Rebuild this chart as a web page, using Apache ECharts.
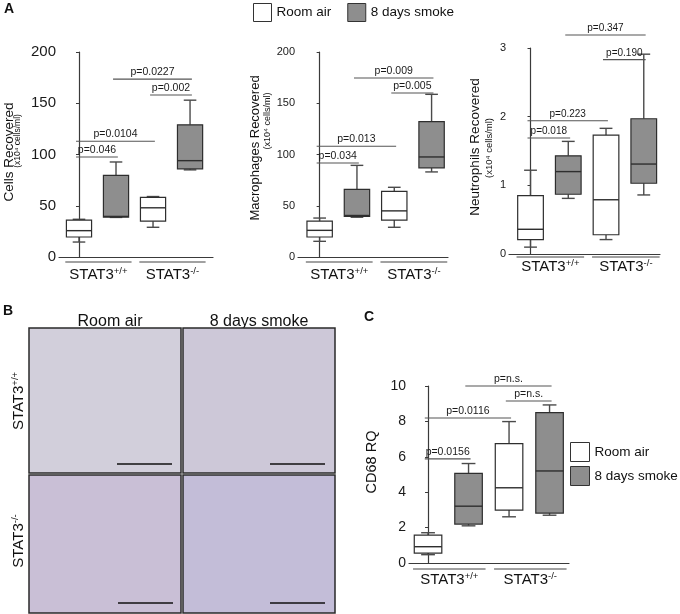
<!DOCTYPE html>
<html><head><meta charset="utf-8">
<script src="https://cdn.jsdelivr.net/npm/echarts@6/dist/echarts.min.js"></script>
<style>html,body{margin:0;padding:0;background:#fff}#c{width:680px;height:614px}</style>
</head><body><div id="c"></div>
<script>
const FONT = '"Liberation Sans", Arial, Helvetica, sans-serif';
// ---------------- data ----------------
const conditionNames = ['Room air', '8 days smoke'];
const groupNames = ['STAT3', 'STAT3'];
const groupSup = ['+/+', '-/-'];

// box stats: [slot, min, Q1, median, Q3, max]
const cellsRoomAir = [[0, 14.6, 19.5, 25.7, 36, 36.8], [2, 29, 35, 48, 58.2, 59]];
const cellsSmoke   = [[1, 38.6, 39, 39.6, 79.7, 92.7], [3, 85, 86, 94, 129, 153]];
const cellsSig = [[0, 1, 97.5], [0, 2, 113], [2, 3, 158], [1, 3, 173.5]];
const cellsSigLabels = ['p=0.046', 'p=0.0104', 'p=0.002', 'p=0.0227'];

const macroRoomAir = [[0, 15.3, 19.5, 26, 35, 38], [2, 29, 36, 45, 64, 68]];
const macroSmoke   = [[1, 38.8, 39.5, 40.5, 66, 89.4], [3, 83, 87, 97.6, 132, 158.7]];
const macroSig = [[0, 1, 91.7], [0, 2, 108], [2, 3, 160], [1, 3, 174.6]];
const macroSigLabels = ['p=0.034', 'p=0.013', 'p=0.005', 'p=0.009'];

const neutroRoomAir = [[0, 0.10, 0.21, 0.36, 0.85, 1.22], [2, 0.21, 0.28, 0.79, 1.73, 1.83]];
const neutroSmoke   = [[1, 0.81, 0.87, 1.20, 1.43, 1.64], [3, 0.86, 1.03, 1.31, 1.97, 2.91]];
const neutroSig = [[0, 1, 1.69], [0, 2, 1.94], [2, 3, 2.83], [1, 3, 3.19]];
const neutroSigLabels = ['p=0.018', 'p=0.223', 'p=0.190', 'p=0.347'];

const cd68RoomAir = [[0, 0.47, 0.56, 0.92, 1.58, 1.71], [2, 2.61, 2.99, 4.25, 6.75, 7.99]];
const cd68Smoke   = [[1, 2.1, 2.2, 3.21, 5.06, 5.62], [3, 2.7, 2.82, 5.2, 8.5, 8.93]];
const cd68Sig = [[0, 1, 5.88], [0, 2, 8.19], [2, 3, 9.15], [1, 3, 10.0]];
const cd68SigLabels = ['p=0.0156', 'p=0.0116', 'p=n.s.', 'p=n.s.'];

const cellsTicks = [0, 200, 50];
const macroTicks = [0, 200, 50];
const neutroTicks = [0, 3, 1];
const cd68Ticks = [0, 10, 2];

// ---------------- layout ----------------
const panels = [
  {grid: {left: 59, top: 52, width: 154, height: 205}, xr: [-0.54, 3.62], ticks: cellsTicks, tickFont: 15,
   ra: cellsRoomAir, sm: cellsSmoke, sig: cellsSig, sigL: cellsSigLabels, sigFont: 10.5, lineOff: 5, labOff: 18},
  {grid: {left: 298, top: 52, width: 150, height: 205}, xr: [-0.58, 3.44], ticks: macroTicks, tickFont: 11,
   ra: macroRoomAir, sm: macroSmoke, sig: macroSig, sigL: macroSigLabels, sigFont: 10.5, lineOff: 5, labOff: 18},
  {grid: {left: 509, top: 48, width: 151, height: 206}, xr: [-0.57, 3.43], ticks: neutroTicks, tickFont: 11,
   ra: neutroRoomAir, sm: neutroSmoke, sig: neutroSig, sigL: neutroSigLabels, sigFont: 10, lineOff: 3, labOff: 13},
  {grid: {left: 409, top: 386, width: 160, height: 177}, xr: [-0.47, 3.48], ticks: cd68Ticks, tickFont: 14,
   ra: cd68RoomAir, sm: cd68Smoke, sig: cd68Sig, sigL: cd68SigLabels, sigFont: 10.5, lineOff: 6, labOff: 17}
];

const AX = '#3a3a3a';
const colors = ['#ffffff', '#8e8e8e'];

function boxRender(params, api) {
  const x = api.value(0);
  const w = api.size([0.68, 0])[0];
  const lo = api.coord([x, api.value(1)]);
  const q1 = api.coord([x, api.value(2)]);
  const md = api.coord([x, api.value(3)]);
  const q3 = api.coord([x, api.value(4)]);
  const hi = api.coord([x, api.value(5)]);
  const cx = lo[0];
  const ws = {stroke: '#4a4a4a', lineWidth: 1.4};
  return {type: 'group', children: [
    {type: 'line', shape: {x1: cx, y1: hi[1], x2: cx, y2: q3[1]}, style: ws},
    {type: 'line', shape: {x1: cx, y1: q1[1], x2: cx, y2: lo[1]}, style: ws},
    {type: 'line', shape: {x1: cx - w / 4, y1: hi[1], x2: cx + w / 4, y2: hi[1]}, style: ws},
    {type: 'line', shape: {x1: cx - w / 4, y1: lo[1], x2: cx + w / 4, y2: lo[1]}, style: ws},
    {type: 'rect', shape: {x: cx - w / 2, y: q3[1], width: w, height: q1[1] - q3[1]},
     style: {fill: api.visual('color'), stroke: '#2e2e2e', lineWidth: 1.2}},
    {type: 'line', shape: {x1: cx - w / 2, y1: md[1], x2: cx + w / 2, y2: md[1]}, style: {stroke: '#2e2e2e', lineWidth: 1.4}}
  ]};
}

function sigRender(labels, fs) {
  return function (params, api) {
    const a = api.coord([api.value(0) - 0.08, api.value(2)]);
    const b = api.coord([api.value(1) + 0.05, api.value(2)]);
    return {type: 'group', children: [
      {type: 'line', shape: {x1: a[0], y1: a[1], x2: b[0], y2: b[1]}, style: {stroke: '#555', lineWidth: 1.1}},
      {type: 'text', x: (a[0] + b[0]) / 2, y: a[1] - 1.5,
       style: {text: labels[params.dataIndex], fill: '#1a1a1a', font: fs + 'px ' + FONT, align: 'center', verticalAlign: 'bottom'}}
    ]};
  };
}

function groupRender(p) {
  return function (params, api) {
    const g = api.value(0);
    const a = api.coord([2 * g - 0.37, 0]);
    const b = api.coord([2 * g + 1.42, 0]);
    const y = a[1] + p.lineOff;
    return {type: 'group', children: [
      {type: 'line', shape: {x1: a[0], y1: y, x2: b[0], y2: y}, style: {stroke: '#444', lineWidth: 1.1}},
      {type: 'text', x: (a[0] + b[0]) / 2, y: a[1] + p.labOff,
       style: {text: '{a|' + groupNames[g] + '}{s|' + groupSup[g] + '}', align: 'center', verticalAlign: 'middle',
         rich: {a: {fontSize: 15, fontFamily: FONT, fill: '#111', lineHeight: 17},
                s: {fontSize: 9.5, fontFamily: FONT, fill: '#111', verticalAlign: 'top', lineHeight: 17, padding: [0, 0, 6, 0]}}}}
    ]};
  };
}

const grid = [], xAxis = [], yAxis = [], series = [];
panels.forEach((p, i) => {
  grid.push(p.grid);
  xAxis.push({gridIndex: i, type: 'value', min: p.xr[0], max: p.xr[1],
    axisLine: {show: true, onZero: false, lineStyle: {color: AX, width: 1.2}},
    axisTick: {show: false}, axisLabel: {show: false}, splitLine: {show: false}});
  yAxis.push({gridIndex: i, type: 'value', min: p.ticks[0], max: p.ticks[1], interval: p.ticks[2],
    axisLine: {show: true, lineStyle: {color: AX, width: 1.2}},
    axisTick: {show: true, length: 3, lineStyle: {color: AX}},
    axisLabel: {fontSize: p.tickFont, color: '#1a1a1a', fontFamily: FONT, margin: 3},
    splitLine: {show: false}});
  [p.ra, p.sm].forEach((d, k) => {
    series.push({type: 'custom', name: conditionNames[k], xAxisIndex: i, yAxisIndex: i,
      itemStyle: {color: colors[k]}, clip: false, renderItem: boxRender, data: d,
      encode: {x: 0, y: [1, 2, 3, 4, 5]}});
  });
  series.push({type: 'custom', name: 'sig' + i, xAxisIndex: i, yAxisIndex: i, clip: false,
    renderItem: sigRender(p.sigL, p.sigFont), data: p.sig, encode: {x: [0, 1], y: 2}, silent: true});
  series.push({type: 'custom', name: 'grp' + i, xAxisIndex: i, yAxisIndex: i, clip: false,
    renderItem: groupRender(p), data: [[0], [1]], encode: {x: 0}, silent: true});
});

function vtext(x, y, text, size, extra) {
  return Object.assign({type: 'text', x: x, y: y, rotation: Math.PI / 2,
    style: {text: text, font: size + 'px ' + FONT, fill: '#111', align: 'center', verticalAlign: 'middle'}}, extra || {});
}
function vrich(x, y, base, sup) {
  return {type: 'text', x: x, y: y, rotation: Math.PI / 2,
    style: {text: '{a|' + base + '}{s|' + sup + '}', align: 'center', verticalAlign: 'middle',
      rich: {a: {fontSize: 15, fontFamily: FONT, fill: '#111', lineHeight: 17},
             s: {fontSize: 9.5, fontFamily: FONT, fill: '#111', verticalAlign: 'top', lineHeight: 17, padding: [0, 0, 6, 0]}}}};
}
function htext(x, y, text, size, weight) {
  return {type: 'text', x: x, y: y,
    style: {text: text, font: (weight || 'normal') + ' ' + size + 'px ' + FONT, fill: '#111', align: 'center', verticalAlign: 'middle'}};
}
const micro = [
  {x: 29, y: 328, w: 152, h: 145, fill: '#d2cfdb', bar: [117, 172, 464]},
  {x: 183, y: 328, w: 152, h: 145, fill: '#cdc8d8', bar: [270, 325, 464]},
  {x: 29, y: 475, w: 152, h: 138, fill: '#c9bfd6', bar: [118, 173, 603]},
  {x: 183, y: 475, w: 152, h: 138, fill: '#c3bdd8', bar: [270, 325, 603]}
];
const graphic = [
  htext(9, 9, 'A', 14, 'bold'),
  htext(8, 311, 'B', 14, 'bold'),
  htext(369, 317, 'C', 14, 'bold'),
  vtext(9, 152, 'Cells Recovered', 13.5),
  vtext(18, 141, '(x10\u2074 cells/ml)', 8.5),
  vtext(255, 148, 'Macrophages Recovered', 13),
  vtext(268, 121, '(x10\u2074 cells/ml)', 9),
  vtext(475, 147, 'Neutrophils Recovered', 13.5),
  vtext(489, 148, '(x10\u2074 cells/ml)', 9.5),
  vtext(372, 462, 'CD68 RQ', 14.5),
  htext(110, 322, 'Room air', 16),
  htext(259, 322, '8 days smoke', 16),
  vrich(19, 401, 'STAT3', '+/+'),
  vrich(19, 541, 'STAT3', '-/-')
];
micro.forEach(m => {
  graphic.push({type: 'rect', shape: {x: m.x, y: m.y, width: m.w, height: m.h},
    style: {fill: m.fill, stroke: '#2a2a2a', lineWidth: 1.5}});
  graphic.push({type: 'line', shape: {x1: m.bar[0], y1: m.bar[2], x2: m.bar[1], y2: m.bar[2]},
    style: {stroke: '#111', lineWidth: 1.6}});
});

const legendText = {fontSize: 13.5, color: '#111', fontFamily: FONT};
const chart = echarts.init(document.getElementById('c'), null, {renderer: 'canvas'});
chart.setOption({
  animation: false,
  backgroundColor: '#fff',
  grid: grid, xAxis: xAxis, yAxis: yAxis, series: series,
  legend: [
    {data: conditionNames, left: 253, top: 3, itemWidth: 18, itemHeight: 18, itemGap: 16, icon: 'rect',
     textStyle: legendText, itemStyle: {borderColor: '#333', borderWidth: 1}, selectedMode: false, padding: 0},
    {data: conditionNames, orient: 'vertical', left: 570, top: 442, itemWidth: 19, itemHeight: 19, itemGap: 4, icon: 'rect',
     textStyle: legendText, itemStyle: {borderColor: '#333', borderWidth: 1}, selectedMode: false, padding: 0}
  ],
  graphic: graphic
});
</script></body></html>
